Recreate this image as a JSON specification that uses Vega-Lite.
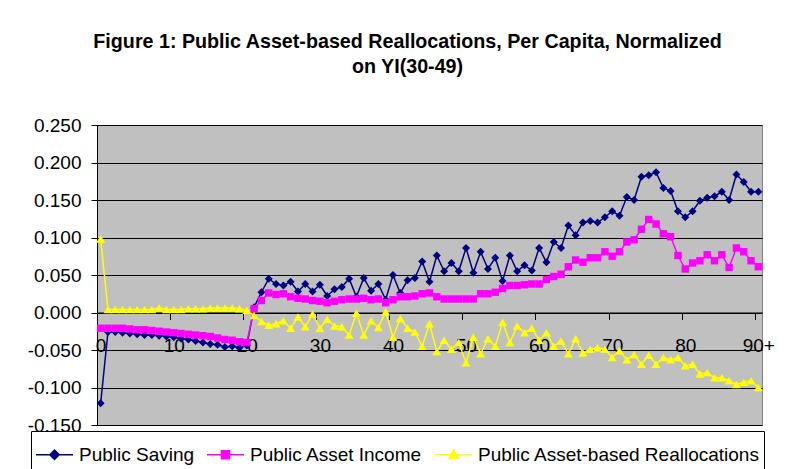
{
  "$schema": "https://vega.github.io/schema/vega-lite/v6.json",
  "width": 665,
  "height": 300,
  "autosize": {"type": "none"},
  "padding": {"left": 97, "top": 125, "right": 27, "bottom": 44},
  "background": "white",
  "config": {
    "font": "Liberation Sans",
    "view": {"fill": "#C0C0C0", "stroke": "#808080", "strokeWidth": 1},
    "axis": {"labelFont": "Liberation Sans", "labelColor": "black", "labelFontSize": 19, "domainColor": "black", "tickColor": "black"}
  },
  "title": {
    "text": ["Figure 1: Public Asset-based Reallocations, Per Capita, Normalized", "on YI(30-49)"],
    "anchor": "middle",
    "frame": "group",
    "font": "Liberation Sans",
    "fontSize": 19.7,
    "fontWeight": "bold",
    "color": "black",
    "lineHeight": 25,
    "offset": 39,
    "dx": -22
  },
  "data": {"values": [
    {"age":0,"saving":-0.121,"income":-0.021,"realloc":0.098},
    {"age":1,"saving":-0.026,"income":-0.021,"realloc":0.004},
    {"age":2,"saving":-0.026,"income":-0.021,"realloc":0.004},
    {"age":3,"saving":-0.027,"income":-0.021,"realloc":0.004},
    {"age":4,"saving":-0.028,"income":-0.022,"realloc":0.004},
    {"age":5,"saving":-0.029,"income":-0.023,"realloc":0.004},
    {"age":6,"saving":-0.030,"income":-0.023,"realloc":0.004},
    {"age":7,"saving":-0.030,"income":-0.024,"realloc":0.004},
    {"age":8,"saving":-0.031,"income":-0.025,"realloc":0.006},
    {"age":9,"saving":-0.032,"income":-0.026,"realloc":0.004},
    {"age":10,"saving":-0.033,"income":-0.027,"realloc":0.004},
    {"age":11,"saving":-0.035,"income":-0.028,"realloc":0.004},
    {"age":12,"saving":-0.036,"income":-0.029,"realloc":0.005},
    {"age":13,"saving":-0.038,"income":-0.030,"realloc":0.005},
    {"age":14,"saving":-0.040,"income":-0.031,"realloc":0.005},
    {"age":15,"saving":-0.042,"income":-0.032,"realloc":0.006},
    {"age":16,"saving":-0.043,"income":-0.034,"realloc":0.006},
    {"age":17,"saving":-0.046,"income":-0.036,"realloc":0.006},
    {"age":18,"saving":-0.045,"income":-0.037,"realloc":0.006},
    {"age":19,"saving":-0.047,"income":-0.039,"realloc":0.005},
    {"age":20,"saving":-0.044,"income":-0.040,"realloc":0.003},
    {"age":21,"saving":0.007,"income":0.005,"realloc":-0.004},
    {"age":22,"saving":0.027,"income":0.016,"realloc":-0.012},
    {"age":23,"saving":0.045,"income":0.026,"realloc":-0.017},
    {"age":24,"saving":0.038,"income":0.024,"realloc":-0.015},
    {"age":25,"saving":0.036,"income":0.025,"realloc":-0.011},
    {"age":26,"saving":0.041,"income":0.021,"realloc":-0.021},
    {"age":27,"saving":0.028,"income":0.019,"realloc":-0.006},
    {"age":28,"saving":0.038,"income":0.018,"realloc":-0.019},
    {"age":29,"saving":0.028,"income":0.016,"realloc":-0.002},
    {"age":30,"saving":0.037,"income":0.015,"realloc":-0.021},
    {"age":31,"saving":0.022,"income":0.013,"realloc":-0.009},
    {"age":32,"saving":0.031,"income":0.015,"realloc":-0.018},
    {"age":33,"saving":0.034,"income":0.017,"realloc":-0.019},
    {"age":34,"saving":0.045,"income":0.018,"realloc":-0.030},
    {"age":35,"saving":0.021,"income":0.018,"realloc":-0.001},
    {"age":36,"saving":0.046,"income":0.019,"realloc":-0.030},
    {"age":37,"saving":0.029,"income":0.017,"realloc":-0.011},
    {"age":38,"saving":0.038,"income":0.018,"realloc":-0.020},
    {"age":39,"saving":0.017,"income":0.013,"realloc":0.001},
    {"age":40,"saving":0.050,"income":0.017,"realloc":-0.033},
    {"age":41,"saving":0.026,"income":0.021,"realloc":-0.008},
    {"age":42,"saving":0.043,"income":0.021,"realloc":-0.021},
    {"age":43,"saving":0.046,"income":0.022,"realloc":-0.026},
    {"age":44,"saving":0.068,"income":0.025,"realloc":-0.045},
    {"age":45,"saving":0.041,"income":0.026,"realloc":-0.015},
    {"age":46,"saving":0.076,"income":0.021,"realloc":-0.052},
    {"age":47,"saving":0.055,"income":0.018,"realloc":-0.037},
    {"age":48,"saving":0.066,"income":0.018,"realloc":-0.049},
    {"age":49,"saving":0.055,"income":0.018,"realloc":-0.040},
    {"age":50,"saving":0.086,"income":0.018,"realloc":-0.067},
    {"age":51,"saving":0.053,"income":0.018,"realloc":-0.033},
    {"age":52,"saving":0.081,"income":0.025,"realloc":-0.055},
    {"age":53,"saving":0.058,"income":0.025,"realloc":-0.035},
    {"age":54,"saving":0.073,"income":0.027,"realloc":-0.045},
    {"age":55,"saving":0.042,"income":0.032,"realloc":-0.013},
    {"age":56,"saving":0.076,"income":0.036,"realloc":-0.040},
    {"age":57,"saving":0.055,"income":0.036,"realloc":-0.018},
    {"age":58,"saving":0.063,"income":0.037,"realloc":-0.027},
    {"age":59,"saving":0.056,"income":0.038,"realloc":-0.021},
    {"age":60,"saving":0.086,"income":0.038,"realloc":-0.037},
    {"age":61,"saving":0.067,"income":0.044,"realloc":-0.027},
    {"age":62,"saving":0.094,"income":0.048,"realloc":-0.045},
    {"age":63,"saving":0.086,"income":0.051,"realloc":-0.038},
    {"age":64,"saving":0.116,"income":0.061,"realloc":-0.055},
    {"age":65,"saving":0.103,"income":0.070,"realloc":-0.035},
    {"age":66,"saving":0.120,"income":0.067,"realloc":-0.054},
    {"age":67,"saving":0.122,"income":0.073,"realloc":-0.049},
    {"age":68,"saving":0.120,"income":0.073,"realloc":-0.047},
    {"age":69,"saving":0.127,"income":0.081,"realloc":-0.049},
    {"age":70,"saving":0.135,"income":0.075,"realloc":-0.060},
    {"age":71,"saving":0.129,"income":0.081,"realloc":-0.051},
    {"age":72,"saving":0.154,"income":0.094,"realloc":-0.063},
    {"age":73,"saving":0.150,"income":0.097,"realloc":-0.056},
    {"age":74,"saving":0.181,"income":0.111,"realloc":-0.069},
    {"age":75,"saving":0.183,"income":0.124,"realloc":-0.057},
    {"age":76,"saving":0.187,"income":0.118,"realloc":-0.069},
    {"age":77,"saving":0.166,"income":0.105,"realloc":-0.060},
    {"age":78,"saving":0.162,"income":0.101,"realloc":-0.063},
    {"age":79,"saving":0.135,"income":0.076,"realloc":-0.060},
    {"age":80,"saving":0.127,"income":0.058,"realloc":-0.071},
    {"age":81,"saving":0.135,"income":0.066,"realloc":-0.069},
    {"age":82,"saving":0.149,"income":0.069,"realloc":-0.082},
    {"age":83,"saving":0.153,"income":0.077,"realloc":-0.080},
    {"age":84,"saving":0.155,"income":0.069,"realloc":-0.087},
    {"age":85,"saving":0.161,"income":0.077,"realloc":-0.087},
    {"age":86,"saving":0.150,"income":0.060,"realloc":-0.091},
    {"age":87,"saving":0.184,"income":0.086,"realloc":-0.096},
    {"age":88,"saving":0.174,"income":0.081,"realloc":-0.093},
    {"age":89,"saving":0.161,"income":0.069,"realloc":-0.091},
    {"age":90,"saving":0.161,"income":0.061,"realloc":-0.100}
  ]},
  "transform": [{"fold": ["saving", "income", "realloc"], "as": ["series", "value"]}],
  "encoding": {
    "y": {
      "field": "value", "type": "quantitative",
      "scale": {"domain": [-0.15, 0.25], "nice": false, "zero": false},
      "axis": {
        "values": [-0.15, -0.1, -0.05, 0, 0.05, 0.1, 0.15, 0.2, 0.25],
        "labelExpr": "(datum.value < -0.0001 ? '-' : '') + format(abs(datum.value), '.3f')",
        "grid": true, "gridColor": "black", "gridOpacity": 1, "gridWidth": 1,
        "tickSize": 6, "labelPadding": 10, "title": null
      }
    }
  },
  "layer": [
    {
      "mark": {"type": "line", "strokeWidth": 1.5},
      "encoding": {
        "x": {
          "field": "age", "type": "quantitative",
          "scale": {"domain": [-0.5, 90.5], "nice": false, "zero": false},
          "axis": {
            "orient": "bottom", "offset": -112.5,
            "values": [0, 10, 20, 30, 40, 50, 60, 70, 80, 90],
            "labelExpr": "datum.value == 90 ? '90+' : datum.label",
            "ticks": false, "tickSize": 0, "labelPadding": 24,
            "domain": true, "domainColor": "black", "grid": false, "title": null
          }
        },
        "color": {
          "field": "series", "type": "nominal",
          "scale": {"domain": ["saving", "income", "realloc"], "range": ["#000080", "#FF00FF", "#FFFF00"]},
          "legend": {
            "orient": "none", "legendX": -66, "legendY": 306, "direction": "horizontal",
            "title": null, "strokeColor": "black", "fillColor": "white", "padding": 4,
            "symbolSize": 1369, "symbolStrokeWidth": 1.5, "symbolType": "M-1,0L1,0",
            "labelFontSize": 19, "labelFont": "Liberation Sans", "labelLimit": 500,
            "labelColor": "black", "labelOffset": 5, "columnPadding": 9,
            "labelExpr": "datum.value == 'saving' ? 'Public Saving' : datum.value == 'income' ? 'Public Asset Income' : 'Public Asset-based Reallocations'",
            "encode": {
              "symbols": {
                "update": {
                  "shape": {"signal": "datum.value == 'saving' ? 'M-1,0L1,0M0,-0.25L0.25,0L0,0.25L-0.25,0Z' : datum.value == 'income' ? 'M-1,0L1,0M-0.22,-0.22L0.22,-0.22L0.22,0.22L-0.22,0.22Z' : 'M-1,0L1,0M0,-0.26L0.26,0.2L-0.26,0.2Z'"},
                  "fill": {"signal": "scale('color', datum.value)"},
                  "stroke": {"signal": "scale('color', datum.value)"},
                  "strokeWidth": {"value": 1.5},
                  "opacity": {"value": 1}
                }
              }
            }
          }
        }
      }
    },
    {
      "transform": [{"filter": "datum.series == 'saving'"}],
      "mark": {"type": "point", "filled": true, "opacity": 1, "size": 64, "shape": "diamond", "color": "#000080"},
      "encoding": {
        "x": {
          "field": "age", "type": "quantitative",
          "scale": {"domain": [-0.5, 90.5], "nice": false, "zero": false},
          "axis": {
            "orient": "bottom", "offset": -112.5,
            "values": [9.5, 19.5, 29.5, 39.5, 49.5, 59.5, 69.5, 79.5, 89.5],
            "labels": false, "domain": false, "ticks": true, "tickSize": 7,
            "grid": false, "title": null
          }
        }
      }
    },
    {
      "transform": [{"filter": "datum.series == 'income'"}],
      "mark": {"type": "point", "filled": true, "opacity": 1, "size": 55, "shape": "square", "color": "#FF00FF"},
      "encoding": {
        "x": {"field": "age", "type": "quantitative", "scale": {"domain": [-0.5, 90.5], "nice": false, "zero": false}, "axis": null}
      }
    },
    {
      "transform": [{"filter": "datum.series == 'realloc'"}],
      "mark": {"type": "point", "filled": true, "opacity": 1, "size": 80, "shape": "triangle-up", "color": "#FFFF00"},
      "encoding": {
        "x": {"field": "age", "type": "quantitative", "scale": {"domain": [-0.5, 90.5], "nice": false, "zero": false}, "axis": null}
      }
    }
  ],
  "resolve": {"axis": {"x": "independent"}}
}
